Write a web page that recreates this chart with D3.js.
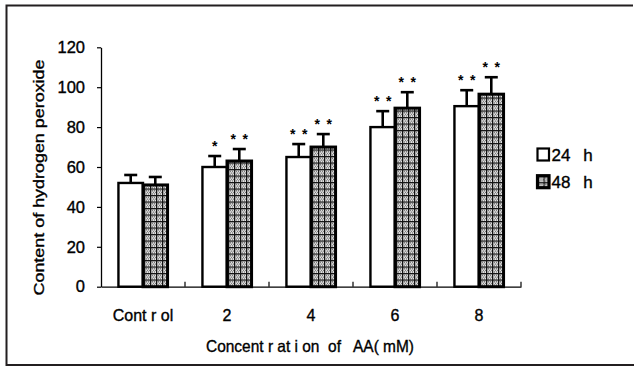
<!DOCTYPE html>
<html>
<head>
<meta charset="utf-8">
<script src="https://cdn.jsdelivr.net/npm/d3@7"></script>
<style>
  body { margin: 0; background: #fff; }
  svg { display: block; font-family: "Liberation Sans", Arial, sans-serif; }
  .lbl { fill: #000; stroke: #000; stroke-width: 0.35px; }
</style>
</head>
<body>
<div id="chart"></div>
<script>
// values
const categories = ["Cont r ol", "2", "4", "6", "8"];
const series = ["24 h", "48 h"];
const mean24 = [52, 60, 65, 80, 90.5];
const err24 = [4, 5.5, 6.5, 8, 8];
const mean48 = [51, 63, 70, 89.5, 96.5];
const err48 = [4, 6, 6.5, 8, 8.5];
const sig24 = ["", "*", "**", "**", "**"];
const sig48 = ["", "**", "**", "**", "**"];
const yTicks = [0, 20, 40, 60, 80, 100, 120];

const W = 634, H = 367;
const margin = {top: 47.3, right: 113, bottom: 80.3, left: 101};

const svg = d3.select("#chart").append("svg")
  .attr("width", W).attr("height", H);

// outer frame
svg.append("path")
  .attr("d", "M6.5,366 V5.5 H633 M6.5,365 H634")
  .attr("fill", "none").attr("stroke", "#231f20").attr("stroke-width", 2);

// hatch pattern: dotted grey cells with a black grid
const defs = svg.append("defs");
const pat = defs.append("pattern")
  .attr("id", "grid").attr("patternUnits", "userSpaceOnUse")
  .attr("width", 6).attr("height", 6.5);
pat.append("rect").attr("width", 6).attr("height", 6.5).attr("fill", "#e4e4e4");
[[2,2],[4,2],[3,3.5],[2,5],[4,5],[5,3.5]].forEach(p => {
  pat.append("rect").attr("x", p[0]).attr("y", p[1])
    .attr("width", 1).attr("height", 1).attr("fill", "#555");
});
pat.append("rect").attr("width", 1.3).attr("height", 6.5).attr("fill", "#111");
pat.append("rect").attr("width", 6).attr("height", 1.3).attr("fill", "#111");

const g = svg.append("g");
const x0 = margin.left, x1 = W - margin.right;
const yTop = margin.top, yBot = H - margin.bottom;

const x = d3.scaleBand().domain(categories).range([x0, x1]).padding(0);
const xs = d3.scaleBand().domain(series).range([0, x.bandwidth()])
  .paddingInner(0).paddingOuter(0.71);
const y = d3.scaleLinear().domain([0, 120]).range([yBot, yTop]);

// y axis
const yAxis = g.append("g")
  .attr("transform", `translate(${x0},0)`)
  .call(d3.axisLeft(y).tickValues(yTicks).tickSize(4).tickPadding(12).tickSizeOuter(0));
yAxis.select(".domain").attr("stroke", "#000").attr("stroke-width", 1.3);
yAxis.selectAll(".tick line").attr("stroke", "#000").attr("stroke-width", 1.2);
yAxis.selectAll("text").attr("class", "lbl").attr("font-size", 16.5)
  .attr("font-family", "Liberation Sans, Arial, sans-serif");

// x axis with labels at group centres
const xAxis = g.append("g")
  .attr("transform", `translate(0,${yBot})`)
  .call(d3.axisBottom(x).tickSize(0).tickPadding(23).tickSizeOuter(0));
xAxis.select(".domain").attr("stroke", "#000").attr("stroke-width", 1.3);
xAxis.selectAll("text").attr("class", "lbl").attr("font-size", 16)
  .attr("font-family", "Liberation Sans, Arial, sans-serif");

// group boundary ticks pointing up
g.append("g").selectAll("line")
  .data(categories)
  .join("line")
  .attr("x1", d => x(d) + x.bandwidth())
  .attr("x2", d => x(d) + x.bandwidth())
  .attr("y1", yBot - 5).attr("y2", yBot)
  .attr("stroke", "#000").attr("stroke-width", 1.2);

// bars
const rows = categories.map((c, i) => [
  {cat: c, s: "24 h", v: mean24[i], e: err24[i], sig: sig24[i]},
  {cat: c, s: "48 h", v: mean48[i], e: err48[i], sig: sig48[i]}
]).flat();

const bars = g.append("g");
bars.selectAll("rect")
  .data(rows)
  .join("rect")
  .attr("x", d => x(d.cat) + xs(d.s))
  .attr("y", d => y(d.v))
  .attr("width", xs.bandwidth())
  .attr("height", d => yBot - y(d.v))
  .attr("fill", d => d.s === "24 h" ? "#fff" : "url(#grid)")
  .attr("stroke", "#000")
  .attr("stroke-width", d => d.s === "24 h" ? 2.4 : 3);

// error bars (upper only)
const cx = d => x(d.cat) + xs(d.s) + xs.bandwidth() / 2;
const eb = g.append("g").attr("stroke", "#000").attr("stroke-width", 2.6);
eb.selectAll(".stem")
  .data(rows).join("line").attr("class", "stem")
  .attr("x1", cx).attr("x2", cx)
  .attr("y1", d => y(d.v)).attr("y2", d => y(d.v + d.e));
eb.selectAll(".cap")
  .data(rows).join("line").attr("class", "cap")
  .attr("x1", d => cx(d) - 6.5).attr("x2", d => cx(d) + 6.5)
  .attr("y1", d => y(d.v + d.e)).attr("y2", d => y(d.v + d.e));

// significance marks, one asterisk per glyph
const stars = rows.filter(d => d.sig).flatMap(d =>
  d.sig.split("").map((s, k, a) => ({d, off: (k - (a.length - 1) / 2) * 12})));
g.append("g").selectAll("text")
  .data(stars)
  .join("text")
  .attr("x", s => cx(s.d) + s.off)
  .attr("y", s => y(s.d.v + s.d.e) - 5)
  .attr("text-anchor", "middle")
  .attr("font-size", 14).attr("font-weight", "bold")
  .text("*");

// axis titles
svg.append("text")
  .attr("class", "lbl")
  .attr("transform", "translate(44,177.5) rotate(-90)")
  .attr("text-anchor", "middle")
  .attr("font-size", 15.5)
  .attr("textLength", 236).attr("lengthAdjust", "spacingAndGlyphs")
  .text("Content of hydrogen peroxide");

svg.append("text")
  .attr("class", "lbl")
  .attr("x", 310).attr("y", 352)
  .attr("text-anchor", "middle")
  .attr("font-size", 16.5)
  .attr("textLength", 208).attr("lengthAdjust", "spacingAndGlyphs")
  .style("white-space", "pre")
  .text("Concent r at i on  of   AA( mM)");

// legend
const legend = svg.append("g").selectAll("g")
  .data(series)
  .join("g")
  .attr("transform", (d, i) => `translate(537.5,${148.5 + i * 27.2})`);
legend.append("rect")
  .attr("width", 11.5).attr("height", 12)
  .attr("fill", (d, i) => i === 0 ? "#fff" : "url(#grid)")
  .attr("stroke", "#000")
  .attr("stroke-width", (d, i) => i === 0 ? 2.2 : 3.2);
legend.append("text")
  .attr("class", "lbl")
  .attr("x", 14).attr("y", 12.5)
  .attr("font-size", 17)
  .attr("word-spacing", 8)
  .text(d => d);
</script>
</body>
</html>
